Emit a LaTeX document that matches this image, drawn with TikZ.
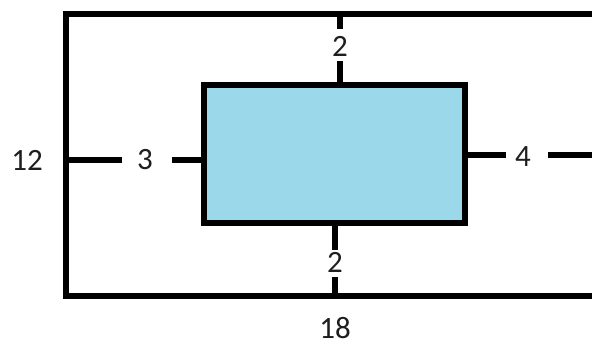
\documentclass[tikz,border=0pt]{standalone}
\usepackage{fontspec}
\setmainfont{Carlito}
\definecolor{boxblue}{RGB}{155,216,233}
\definecolor{txt}{RGB}{30,30,30}
\begin{document}
\begin{tikzpicture}[x=1pt,y=-1pt,
  thick line/.style={line width=5.5pt, black},
  lbl/.style={font=\fontsize{31}{34}\selectfont, text=txt, inner sep=0pt},
  boxnode/.style={draw=black, line width=5.5pt, fill=boxblue, minimum width=261pt, minimum height=138pt, inner sep=0pt, outer sep=0pt}]
\useasboundingbox (0,0) rectangle (592,347);
\clip (0,0) rectangle (592,347);
% outer frame (right side cut off)
\coordinate (otr) at (620,14);
\coordinate (otl) at (66,14);
\coordinate (obl) at (66,296);
\coordinate (obr) at (620,296);
\draw[thick line] (otr) -- (otl) -- (obl) -- (obr);
% inner box
\node[boxnode] (inner) at (334.5,154) {};
% labels
\node[lbl] (ltop) at (340,46) {2};
\node[lbl] (lbot) at (335,262) {2};
\node[lbl] (lleft) at (145,160) {3};
\node[lbl] (lright) at (523,157) {4};
\node[lbl] (lh) at (27,160) {12};
\node[lbl] (lw) at (335,328) {18};
% dimension segments
\coordinate (t1) at (340,14);  \coordinate (t2) at (340,29);
\coordinate (t3) at (340,61);  \coordinate (t4) at (340,85);
\draw[thick line] (t1) -- (t2);
\draw[thick line] (t3) -- (t4);
\coordinate (b1) at (335,223); \coordinate (b2) at (335,250);
\coordinate (b3) at (335,277); \coordinate (b4) at (335,296);
\draw[thick line] (b1) -- (b2);
\draw[thick line] (b3) -- (b4);
\coordinate (l1) at (66,160);  \coordinate (l2) at (122,160);
\coordinate (l3) at (172,160); \coordinate (l4) at (204,160);
\draw[thick line] (l1) -- (l2);
\draw[thick line] (l3) -- (l4);
\coordinate (r1) at (465,155); \coordinate (r2) at (506,155);
\coordinate (r3) at (548,155); \coordinate (r4) at (620,155);
\draw[thick line] (r1) -- (r2);
\draw[thick line] (r3) -- (r4);
\end{tikzpicture}
\end{document}
